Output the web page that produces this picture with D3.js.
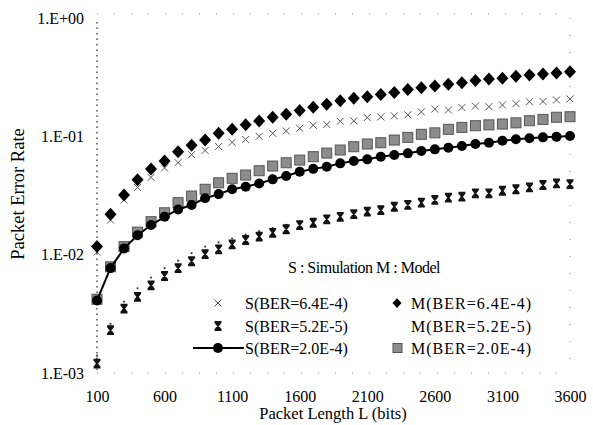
<!DOCTYPE html>
<html>

<head>
    <meta charset="UTF-8" />
    <title>Packet Error Rate vs Packet Length</title>
    <script src="https://d3js.org/d3.v7.min.js"></script>
    <style>
        body {
            margin: 0;
            background: white;
        }

        svg text {
            font-family: "Liberation Serif", "Times New Roman", serif;
            fill: black;
        }

        .axis text {
            font-size: 16px;
        }

        .legend text {
            font-size: 16px;
        }
    </style>
</head>

<body>
    <svg width="593" height="425"></svg>

    <script>
        // packet lengths (bits)
        var lengths = [100, 200, 300, 400, 500, 600, 700, 800, 900, 1000, 1100, 1200,
            1300, 1400, 1500, 1600, 1700, 1800, 1900, 2000, 2100, 2200, 2300, 2400,
            2500, 2600, 2700, 2800, 2900, 3000, 3100, 3200, 3300, 3400, 3500, 3600];

        var xTicks = [100, 600, 1100, 1600, 2100, 2600, 3100, 3600];
        var yTicks = [1, 0.1, 0.01, 0.001];
        var yTickLabels = ["1.E+00", "1.E-01", "1.E-02", "1.E-03"];

        // M(BER=6.4E-4)
        var model64 = [0.0117, 0.022, 0.032, 0.043, 0.053, 0.062, 0.074, 0.084, 0.093, 0.106, 0.115, 0.125,
            0.135, 0.145, 0.154, 0.165, 0.176, 0.187, 0.200, 0.210, 0.216, 0.226, 0.235, 0.249,
            0.257, 0.266, 0.275, 0.284, 0.297, 0.305, 0.310, 0.322, 0.330, 0.336, 0.343, 0.352];
        // S(BER=6.4E-4)
        var sim64 = [0.0105, 0.0196, 0.029, 0.037, 0.045, 0.054, 0.060, 0.070, 0.076, 0.082, 0.089, 0.094,
            0.100, 0.106, 0.111, 0.117, 0.124, 0.126, 0.134, 0.135, 0.144, 0.146, 0.149, 0.152,
            0.161, 0.170, 0.167, 0.175, 0.180, 0.178, 0.184, 0.189, 0.196, 0.197, 0.203, 0.207];
        // M(BER=2.0E-4)
        var model20 = [0.0042, 0.0079, 0.0117, 0.0155, 0.019, 0.0226, 0.0275, 0.0313, 0.0357, 0.0405, 0.0442, 0.0471,
            0.0512, 0.0561, 0.0598, 0.063, 0.0673, 0.0722, 0.0766, 0.0817, 0.0861, 0.0883, 0.093, 0.098,
            0.104, 0.107, 0.1146, 0.119, 0.123, 0.125, 0.127, 0.130, 0.1355, 0.139, 0.145, 0.1465];
        // S(BER=2.0E-4)
        var sim20 = [0.0041, 0.0077, 0.0113, 0.0146, 0.0178, 0.0209, 0.0241, 0.0263, 0.030, 0.0325, 0.0357, 0.0375,
            0.040, 0.0433, 0.0462, 0.0502, 0.0531, 0.0553, 0.0591, 0.0618, 0.0639, 0.0673, 0.0695, 0.0718,
            0.0751, 0.0776, 0.0801, 0.0828, 0.0861, 0.0883, 0.0918, 0.0944, 0.0962, 0.098, 0.099, 0.1006];
        // M(BER=5.2E-5)
        var model52 = [0.0014, 0.0026, 0.0040, 0.0052, 0.0064, 0.0077, 0.0089, 0.0103, 0.0117, 0.0127, 0.0137, 0.0148,
            0.0158, 0.0168, 0.0179, 0.0190, 0.0200, 0.0212, 0.0222, 0.0233, 0.0243, 0.0253, 0.0264, 0.0274,
            0.0285, 0.0296, 0.0306, 0.0316, 0.0327, 0.0337, 0.0347, 0.0357, 0.0368, 0.0378, 0.0388, 0.0398];
        // S(BER=5.2E-5)
        var sim52 = [0.0012, 0.0023, 0.0035, 0.0044, 0.0055, 0.0066, 0.0077, 0.0088, 0.0101, 0.0111, 0.0122, 0.0133,
            0.0142, 0.0153, 0.0164, 0.0178, 0.0186, 0.0199, 0.0209, 0.0220, 0.0231, 0.0238, 0.0254, 0.0263,
            0.0275, 0.029, 0.0303, 0.0309, 0.033, 0.033, 0.0347, 0.0357, 0.037, 0.0388, 0.040, 0.0395];

        var svg = d3.select("svg");

        // plot box
        var plotLeft = 97, plotRight = 570, plotTop = 18, plotBottom = 373;
        var x = d3.scaleLinear().domain([100, 3600]).range([plotLeft, plotRight]);
        var y = d3.scaleLog().domain([0.001, 1]).range([plotBottom, plotTop]);

        // faint dotted frame (scan residue of the gridlines)
        svg.append("g")
            .selectAll("line")
            .data([[plotLeft, plotTop - 4, plotRight, plotTop - 4], [plotLeft, plotBottom, plotRight, plotBottom],
                [plotRight, plotTop, plotRight, plotBottom]])
            .enter().append("line")
            .attr("x1", d => d[0]).attr("y1", d => d[1])
            .attr("x2", d => d[2]).attr("y2", d => d[3])
            .attr("stroke", "#999")
            .attr("stroke-width", 1)
            .attr("stroke-dasharray", "1,16");

        // y axis
        var yAxis = svg.append("g").attr("class", "axis")
            .attr("transform", "translate(" + plotLeft + ",0)")
            .call(d3.axisLeft(y).tickValues(yTicks).tickSize(0).tickPadding(13)
                .tickFormat((d, i) => yTickLabels[i]));
        yAxis.select(".domain").remove();
        svg.append("line")
            .attr("x1", plotLeft).attr("x2", plotLeft)
            .attr("y1", plotTop + 4).attr("y2", plotBottom)
            .attr("stroke", "#222")
            .attr("stroke-width", 1.2)
            .attr("stroke-dasharray", "1.5,4");

        // x axis
        var xAxis = svg.append("g").attr("class", "axis")
            .attr("transform", "translate(0," + plotBottom + ")")
            .call(d3.axisBottom(x).tickValues(xTicks).tickSize(0).tickPadding(18)
                .tickFormat(d3.format("d")));
        xAxis.select(".domain").remove();

        // axis titles
        svg.append("text")
            .attr("x", 333).attr("y", 419)
            .attr("text-anchor", "middle")
            .style("font-size", "16.5px")
            .text("Packet Length L (bits)");
        svg.append("text")
            .attr("transform", "translate(24,194) rotate(-90)")
            .attr("text-anchor", "middle")
            .style("font-size", "18.5px")
            .text("Packet Error Rate");

        function pts(vals) {
            return lengths.map((L, i) => ({ L: L, v: vals[i] }));
        }

        // marker shapes
        var diamond = "M0,-6.5L6,0L0,6.5L-6,0Z";
        var cross = "M-3.5,-3.5L3.5,3.5M3.5,-3.5L-3.5,3.5";
        var star = "M-3.5,-4L3.5,-4M-3.5,4L3.5,4M-3,-4L3,4M3,-4L-3,4M0,-4L0,4";

        var plot = svg.append("g");

        // M(BER=5.2E-5): tiny dots
        plot.append("g").selectAll("circle")
            .data(pts(model52)).enter().append("circle")
            .attr("cx", d => x(d.L)).attr("cy", d => y(d.v))
            .attr("r", 1.1)
            .attr("fill", "#444");

        // S(BER=5.2E-5)
        plot.append("g").selectAll("path")
            .data(pts(sim52)).enter().append("path")
            .attr("transform", d => "translate(" + x(d.L) + "," + y(d.v) + ")")
            .attr("d", star)
            .attr("fill", "none")
            .attr("stroke", "#111")
            .attr("stroke-width", 1.8);

        // S(BER=6.4E-4)
        plot.append("g").selectAll("path")
            .data(pts(sim64)).enter().append("path")
            .attr("transform", d => "translate(" + x(d.L) + "," + y(d.v) + ")")
            .attr("d", cross)
            .attr("fill", "none")
            .attr("stroke", "#555")
            .attr("stroke-width", 1);

        // M(BER=2.0E-4)
        plot.append("g").selectAll("rect")
            .data(pts(model20)).enter().append("rect")
            .attr("x", d => x(d.L) - 5).attr("y", d => y(d.v) - 5)
            .attr("width", 10).attr("height", 10)
            .attr("fill", "#8c8c8c")
            .attr("stroke", "#555")
            .attr("stroke-width", 1);

        // S(BER=2.0E-4) line + circles
        var line = d3.line().x(d => x(d.L)).y(d => y(d.v));
        plot.append("path")
            .datum(pts(sim20))
            .attr("d", line)
            .attr("fill", "none")
            .attr("stroke", "black")
            .attr("stroke-width", 2);
        plot.append("g").selectAll("circle")
            .data(pts(sim20)).enter().append("circle")
            .attr("cx", d => x(d.L)).attr("cy", d => y(d.v))
            .attr("r", 5)
            .attr("fill", "black");

        // M(BER=6.4E-4)
        plot.append("g").selectAll("path")
            .data(pts(model64)).enter().append("path")
            .attr("transform", d => "translate(" + x(d.L) + "," + y(d.v) + ")")
            .attr("d", diamond)
            .attr("fill", "black");

        // legend
        var legend = svg.append("g").attr("class", "legend");
        legend.append("text").attr("x", 288).attr("y", 273)
            .style("letter-spacing", "-0.5px")
            .text("S : Simulation M : Model");

        var rows = [303, 326, 348];
        var sLabels = ["S(BER=6.4E-4)", "S(BER=5.2E-5)", "S(BER=2.0E-4)"];
        var mLabels = ["M(BER=6.4E-4)", "M(BER=5.2E-5)", "M(BER=2.0E-4)"];

        legend.selectAll(".sl").data(sLabels).enter().append("text")
            .attr("class", "sl")
            .attr("x", 245).attr("y", (d, i) => rows[i] + 5.5)
            .text(d => d);
        legend.selectAll(".ml").data(mLabels).enter().append("text")
            .attr("class", "ml")
            .attr("x", 411).attr("y", (d, i) => rows[i] + 5.5)
            .style("letter-spacing", "1px")
            .text(d => d);

        legend.append("path").attr("transform", "translate(218," + rows[0] + ")")
            .attr("d", cross).attr("fill", "none").attr("stroke", "#555").attr("stroke-width", 1);
        legend.append("path").attr("transform", "translate(218," + rows[1] + ")")
            .attr("d", star).attr("fill", "none").attr("stroke", "#111").attr("stroke-width", 1.8);
        legend.append("line").attr("x1", 193).attr("x2", 244)
            .attr("y1", rows[2]).attr("y2", rows[2])
            .attr("stroke", "black").attr("stroke-width", 2);
        legend.append("circle").attr("cx", 218).attr("cy", rows[2]).attr("r", 5).attr("fill", "black");

        legend.append("path").attr("transform", "translate(397," + rows[0] + ") scale(0.75)")
            .attr("d", diamond).attr("fill", "black");
        legend.append("rect").attr("x", 393).attr("y", rows[2] - 4.5)
            .attr("width", 9).attr("height", 9)
            .attr("fill", "#8c8c8c").attr("stroke", "#555");
    </script>
</body>

</html>
